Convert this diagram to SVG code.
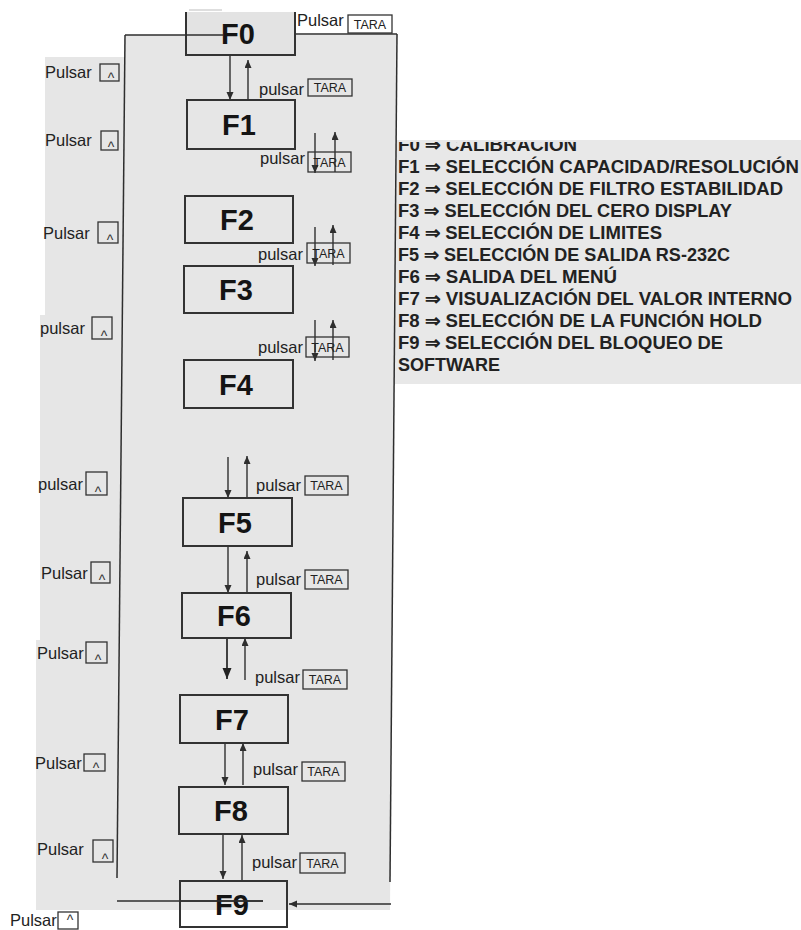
<svg xmlns="http://www.w3.org/2000/svg" width="801" height="930" viewBox="0 0 801 930">
<style>
.bg{fill:#e6e6e6}
.ln{stroke:#2e2e2e;stroke-width:1.5;fill:none}
.box{fill:none;stroke:#333;stroke-width:2}
.big{font-family:"Liberation Sans",Arial,sans-serif;font-weight:bold;font-size:29px;fill:#141414;text-anchor:middle}
.lbl{font-family:"Liberation Sans",Arial,sans-serif;font-size:16.5px;fill:#222}
.tbox{fill:none;stroke:#333;stroke-width:1.3}
.tara{font-family:"Liberation Sans",Arial,sans-serif;font-size:12.5px;fill:#222;text-anchor:middle}
.car{font-family:"Liberation Sans",Arial,sans-serif;font-size:14px;fill:#333;text-anchor:middle}
.lst{font-family:"Liberation Sans",Arial,sans-serif;font-weight:bold;font-size:18px;fill:#222}
.arr{stroke:#2e2e2e;stroke-width:1.4;fill:none;marker-end:url(#ah)}
.arrb{stroke:#2e2e2e;stroke-width:1.8;fill:none;marker-end:url(#ahb)}
</style>
<defs>
<marker id="ah" markerUnits="userSpaceOnUse" markerWidth="8" markerHeight="10" refX="8" refY="3.5" orient="auto">
<path d="M0,0 L8,3.5 L0,7 z" fill="#2e2e2e"/>
</marker>
<marker id="ahb" markerUnits="userSpaceOnUse" markerWidth="12" markerHeight="10" refX="11" refY="4.5" orient="auto">
<path d="M0,0 L11,4.5 L0,9 z" fill="#222"/>
</marker>
<clipPath id="panelclip"><rect x="393" y="142" width="408" height="242"/></clipPath>
</defs>

<!-- scanned background -->
<g id="background">
<rect width="801" height="930" fill="#ffffff"/>
<polygon class="bg" points="45,57 125,57 125,35 397,35 390,910 36,910 36,640 40,640 40,315 45,315"/>
<rect x="393" y="140" width="408" height="244" fill="#e8e8e8"/>
</g>

<!-- connectors -->
<g id="connectors">
<polyline class="ln" points="125,35 223,35"/>
<polyline class="ln" points="295,34 397,34"/>
<line class="ln" x1="397" y1="34" x2="390" y2="882"/>
<line class="ln" x1="125" y1="35" x2="117" y2="878"/>
<line class="ln" x1="117" y1="901" x2="263" y2="901"/>
<line class="arr" x1="391" y1="904" x2="289" y2="904"/>
<!-- F0/F1 -->
<line class="arr" x1="230" y1="56" x2="230" y2="100"/>
<line class="arr" x1="248" y1="100" x2="248" y2="60"/>
<!-- small pairs -->
<line class="arr" x1="315" y1="133" x2="315" y2="173"/>
<line class="arr" x1="335" y1="172" x2="335" y2="132"/>
<line class="arr" x1="315" y1="227" x2="315" y2="266"/>
<line class="arr" x1="333" y1="265" x2="333" y2="225"/>
<line class="arr" x1="315" y1="320" x2="315" y2="361"/>
<line class="arr" x1="333" y1="360" x2="333" y2="320"/>
<!-- F4/F5 -->
<line class="arr" x1="228" y1="457" x2="228" y2="498"/>
<line class="arr" x1="247" y1="498" x2="247" y2="456"/>
<!-- F5/F6 -->
<line class="arr" x1="228" y1="547" x2="228" y2="593"/>
<line class="arr" x1="247" y1="593" x2="247" y2="551"/>
<!-- F6/F7 -->
<line class="arrb" x1="227" y1="639" x2="227" y2="679"/>
<line class="arr" x1="245" y1="680" x2="245" y2="638"/>
<!-- F7/F8 -->
<line class="arr" x1="225" y1="744" x2="225" y2="785"/>
<line class="arr" x1="243" y1="785" x2="243" y2="743"/>
<!-- F8/F9 -->
<line class="arr" x1="223" y1="835" x2="223" y2="879"/>
<line class="arr" x1="242" y1="880" x2="242" y2="835"/>
</g>

<!-- nodes -->
<g id="F0">
<rect x="186" y="12" width="109" height="43" fill="#e3e3e3"/>
<path class="box" d="M186,12 V55 H295 V12"/>
<line x1="189" y1="10" x2="222" y2="10" stroke="#bdbdbd" stroke-width="1"/>
<text class="big" x="238" y="44">F0</text>
<line class="ln" x1="186" y1="35" x2="223" y2="35"/>
</g>
<g id="F1"><rect class="box" x="187" y="100" width="108" height="49"/><text class="big" x="239" y="135">F1</text></g>
<g id="F2"><rect class="box" x="185" y="196" width="108" height="47"/><text class="big" x="237" y="230">F2</text></g>
<g id="F3"><rect class="box" x="184" y="266" width="109" height="47"/><text class="big" x="236" y="300">F3</text></g>
<g id="F4"><rect class="box" x="184" y="360" width="109" height="48"/><text class="big" x="236" y="395">F4</text></g>
<g id="F5"><rect class="box" x="183" y="498" width="109" height="48"/><text class="big" x="235" y="533">F5</text></g>
<g id="F6"><rect class="box" x="182" y="593" width="109" height="45"/><text class="big" x="234" y="626">F6</text></g>
<g id="F7"><rect class="box" x="180" y="695" width="108" height="48"/><text class="big" x="232" y="730">F7</text></g>
<g id="F8"><rect class="box" x="179" y="787" width="109" height="47"/><text class="big" x="231" y="821">F8</text></g>
<g id="F9"><rect class="box" x="180" y="881" width="107" height="46"/><text class="big" x="232" y="915">F9</text>
<line class="ln" x1="180" y1="901" x2="263" y2="901"/></g>

<!-- right labels: pulsar TARA -->
<g id="tara-labels">
<text class="lbl" x="297" y="26">Pulsar</text><rect class="tbox" x="348" y="15" width="44" height="18"/><text class="tara" x="370" y="29">TARA</text>
<text class="lbl" x="259" y="95">pulsar</text><rect class="tbox" x="308" y="79" width="44" height="17"/><text class="tara" x="330" y="92">TARA</text>
<text class="lbl" x="260" y="164">pulsar</text><rect class="tbox" x="308" y="152" width="43" height="20"/><text class="tara" x="329.5" y="167">TARA</text>
<text class="lbl" x="258" y="260">pulsar</text><rect class="tbox" x="307" y="243" width="43" height="20"/><text class="tara" x="328.5" y="258">TARA</text>
<text class="lbl" x="258" y="353">pulsar</text><rect class="tbox" x="306" y="337" width="43" height="20"/><text class="tara" x="327.5" y="352">TARA</text>
<text class="lbl" x="256" y="491">pulsar</text><rect class="tbox" x="305" y="476" width="43" height="19"/><text class="tara" x="326.5" y="490">TARA</text>
<text class="lbl" x="256" y="585">pulsar</text><rect class="tbox" x="305" y="570" width="43" height="19"/><text class="tara" x="326.5" y="584">TARA</text>
<text class="lbl" x="255" y="683">pulsar</text><rect class="tbox" x="303" y="670" width="44" height="19"/><text class="tara" x="325" y="684">TARA</text>
<text class="lbl" x="253" y="775">pulsar</text><rect class="tbox" x="302" y="762" width="43" height="19"/><text class="tara" x="323.5" y="776">TARA</text>
<text class="lbl" x="252" y="868">pulsar</text><rect class="tbox" x="300" y="853" width="45" height="20"/><text class="tara" x="322.5" y="868">TARA</text>
</g>

<!-- left labels: Pulsar ^ -->
<g id="up-labels">
<text class="lbl" x="45" y="78">Pulsar</text><rect class="tbox" x="100" y="64" width="19" height="17"/><text class="car" x="111" y="83">^</text>
<text class="lbl" x="45" y="146">Pulsar</text><rect class="tbox" x="101" y="131" width="17" height="19"/><text class="car" x="111" y="152">^</text>
<text class="lbl" x="43" y="239">Pulsar</text><rect class="tbox" x="98" y="222" width="20" height="21"/><text class="car" x="110" y="245">^</text>
<text class="lbl" x="40" y="334">pulsar</text><rect class="tbox" x="92" y="317" width="20" height="22"/><text class="car" x="104" y="341">^</text>
<text class="lbl" x="38" y="490">pulsar</text><rect class="tbox" x="86" y="472" width="21" height="23"/><text class="car" x="98" y="497">^</text>
<text class="lbl" x="41" y="579">Pulsar</text><rect class="tbox" x="91" y="562" width="19" height="21"/><text class="car" x="102" y="585">^</text>
<text class="lbl" x="37" y="659">Pulsar</text><rect class="tbox" x="86" y="642" width="21" height="21"/><text class="car" x="98" y="665">^</text>
<text class="lbl" x="35" y="769">Pulsar</text><rect class="tbox" x="84" y="754" width="21" height="17"/><text class="car" x="96" y="773">^</text>
<text class="lbl" x="37" y="855">Pulsar</text><rect class="tbox" x="93" y="840" width="20" height="22"/><text class="car" x="105" y="864">^</text>
<text class="lbl" x="10" y="926">Pulsar</text><rect class="tbox" x="58" y="912" width="20" height="17"/><text class="car" x="70" y="925" font-size="13">^</text>
</g>

<!-- legend -->
<g id="legend">
<g clip-path="url(#panelclip)"><text class="lst" x="398" y="151" textLength="179" lengthAdjust="spacingAndGlyphs">F0 ⇒ CALIBRACION</text></g>
<text class="lst" x="398" y="173" textLength="401" lengthAdjust="spacingAndGlyphs">F1 ⇒ SELECCIÓN CAPACIDAD/RESOLUCIÓN</text>
<text class="lst" x="398" y="195" textLength="385" lengthAdjust="spacingAndGlyphs">F2 ⇒ SELECCIÓN DE FILTRO ESTABILIDAD</text>
<text class="lst" x="398" y="217" textLength="334" lengthAdjust="spacingAndGlyphs">F3 ⇒ SELECCIÓN DEL CERO DISPLAY</text>
<text class="lst" x="398" y="239" textLength="264" lengthAdjust="spacingAndGlyphs">F4 ⇒ SELECCIÓN DE LIMITES</text>
<text class="lst" x="398" y="261" textLength="332" lengthAdjust="spacingAndGlyphs">F5 ⇒ SELECCIÓN DE SALIDA RS-232C</text>
<text class="lst" x="398" y="283" textLength="219" lengthAdjust="spacingAndGlyphs">F6 ⇒ SALIDA DEL MENÚ</text>
<text class="lst" x="398" y="305" textLength="394" lengthAdjust="spacingAndGlyphs">F7 ⇒ VISUALIZACIÓN DEL VALOR INTERNO</text>
<text class="lst" x="398" y="327" textLength="364" lengthAdjust="spacingAndGlyphs">F8 ⇒ SELECCIÓN DE LA FUNCIÓN HOLD</text>
<text class="lst" x="398" y="349" textLength="325" lengthAdjust="spacingAndGlyphs">F9 ⇒ SELECCIÓN DEL BLOQUEO DE</text>
<text class="lst" x="398" y="371" textLength="102" lengthAdjust="spacingAndGlyphs">SOFTWARE</text>
</g>
</svg>
